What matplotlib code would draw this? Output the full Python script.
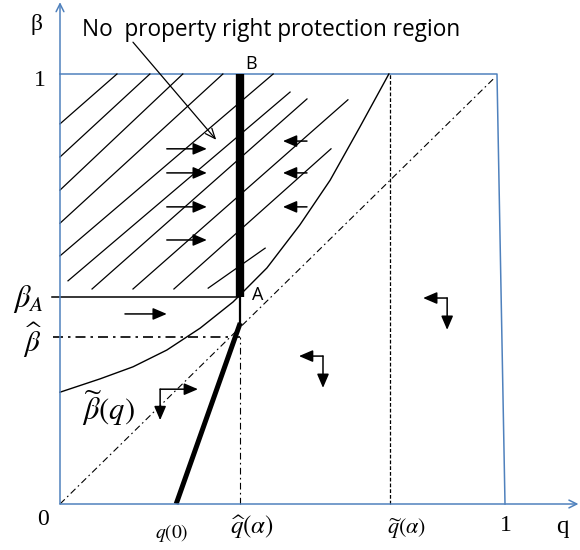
import matplotlib
matplotlib.use("Agg")
import matplotlib.pyplot as plt

plt.rcParams["mathtext.fontset"] = "stix"

# ------------------------------------------------------------ data
# q on the horizontal axis, beta on the vertical axis (both in [0, 1])
q_hat = 0.405       # q-hat(alpha): thick vertical A-B
q_tilde = 0.742     # q-tilde(alpha): dashed vertical
q_zero = 0.261      # q(0): foot of the thick slanted line
beta_A = 0.481
beta_hat = 0.388
beta_kink = 0.421   # where the thin piece below A meets the thick slant
box_top_q = 0.982   # the right edge of the box leans a little
diag_end = 0.975

# beta-tilde(q) curve
curve_q = [0.0, 0.090, 0.164, 0.240, 0.315, 0.389, 0.465, 0.539, 0.607,
           0.674, 0.739]
curve_b = [0.260, 0.291, 0.319, 0.358, 0.409, 0.470, 0.549, 0.649, 0.753,
           0.877, 1.0]

# hatching of the no-protection region: (q0, b0, q1, b1)
hatch_q0 = [0.0, 0.0, 0.0, 0.0, 0.0, 0.018, 0.072, 0.164, 0.256, 0.333]
hatch_b0 = [0.884, 0.807, 0.730, 0.653, 0.577, 0.519, 0.500, 0.500, 0.500, 0.502]
hatch_q1 = [0.128, 0.202, 0.276, 0.366, 0.479, 0.517, 0.555, 0.647, 0.609, 0.461]
hatch_b1 = [1.0, 1.0, 1.0, 1.0, 1.0, 0.958, 0.942, 0.940, 0.826, 0.595]

# flow arrows: tail q, tip q, beta
right_tail = [0.240, 0.240, 0.240, 0.240, 0.146]
right_tip = [0.330, 0.330, 0.330, 0.330, 0.240]
right_b = [0.826, 0.770, 0.691, 0.614, 0.442]
left_tail = [0.555, 0.555, 0.555]
left_tip = [0.501, 0.501, 0.501]
left_b = [0.844, 0.770, 0.691]

# corner arrows: corner (q, beta), horizontal tip q, vertical tip beta
corner_q = [0.225, 0.591, 0.870]
corner_b = [0.267, 0.344, 0.479]
corner_hq = [0.310, 0.537, 0.816]
corner_vb = [0.195, 0.270, 0.405]

BLUE = "#4f81bd"

fig = plt.figure(figsize=(5.8, 5.5), dpi=100)
ax = fig.add_axes([0, 0, 1, 1])
ax.set_xlim(-60 / 445, 520 / 445)
ax.set_ylim(-46 / 430, 504 / 430)
ax.axis("off")

# axes and box
ax.annotate("", xy=(0, 1.167), xytext=(0, 0),
            arrowprops=dict(arrowstyle="->", color=BLUE, lw=1.1,
                            mutation_scale=14, shrinkA=0, shrinkB=0))
ax.annotate("", xy=(1.165, 0), xytext=(0, 0),
            arrowprops=dict(arrowstyle="->", color=BLUE, lw=1.1,
                            mutation_scale=14, shrinkA=0, shrinkB=0))
ax.plot([0, box_top_q, 1.0], [1, 1, 0], color=BLUE, lw=1.1)

# hatching
for a, b, c, d in zip(hatch_q0, hatch_b0, hatch_q1, hatch_b1):
    ax.plot([a, c], [b, d], color="black", lw=0.9)

# 45-degree line
ax.plot([0, diag_end], [0, diag_end * 1.015], color="black", lw=0.8,
        dashes=(6, 3, 1.5, 3))

# beta-tilde curve
ax.plot(curve_q, curve_b, color="black", lw=1.0)

# q-tilde dashed vertical
ax.plot([q_tilde, q_tilde], [0, 1], color="black", lw=0.9, dashes=(3, 1.6))

# beta-hat / q-hat dash-dot guides
ax.plot([-0.016, q_hat], [beta_hat, beta_hat], color="black", lw=1.2,
        dashes=(6, 3, 1.5, 3))
ax.plot([q_hat, q_hat], [0, beta_hat], color="black", lw=0.8,
        dashes=(6, 3, 1.5, 3))

# beta_A horizontal
ax.plot([-0.018, q_hat], [beta_A, beta_A], color="black", lw=1.1)

# A-B thick segment, thin piece below A, thick slanted line
ax.plot([q_hat, q_hat], [beta_A, 1.0], color="black", lw=6,
        solid_capstyle="butt")
ax.plot([q_hat, q_hat], [beta_kink, beta_A], color="black", lw=1.6)
ax.plot([q_zero, q_hat], [0, beta_kink], color="black", lw=3.6,
        solid_capstyle="butt")

# flow arrows
arrow_kw = dict(arrowstyle="-|>,head_length=0.7,head_width=0.3",
                color="black", lw=1.1, mutation_scale=12,
                shrinkA=0, shrinkB=0)
for t, h, b in zip(right_tail, right_tip, right_b):
    ax.annotate("", xy=(h, b), xytext=(t, b), arrowprops=arrow_kw)
for t, h, b in zip(left_tail, left_tip, left_b):
    ax.annotate("", xy=(h, b), xytext=(t, b), arrowprops=arrow_kw)
for cq, cb, hq, vb in zip(corner_q, corner_b, corner_hq, corner_vb):
    ax.annotate("", xy=(hq, cb), xytext=(cq, cb), arrowprops=arrow_kw)
    ax.annotate("", xy=(cq, vb), xytext=(cq, cb), arrowprops=arrow_kw)

# region label with pointer
ax.text(0.049, 1.102, "No  property right protection region",
        family="Open Sans", fontsize=16.3, ha="left", va="center")
ax.annotate("", xy=(0.351, 0.847), xytext=(0.164, 1.074),
            arrowprops=dict(arrowstyle="->,head_length=0.6,head_width=0.25",
                            color="black", lw=0.9, mutation_scale=12,
                            shrinkA=0, shrinkB=0))

# labels
serif = "Liberation Serif"
ax.text(-0.052, 1.116, "β", family=serif, fontsize=17, ha="center", va="center")
ax.text(-0.045, 0.986, "1", family=serif, fontsize=17, ha="center", va="center")
ax.text(-0.038, -0.037, "0", family=serif, fontsize=17, ha="center", va="center")
ax.text(1.002, -0.049, "1", family=serif, fontsize=17, ha="center", va="center")
ax.text(1.130, -0.053, "q", family=serif, fontsize=18, ha="center", va="center")
ax.text(0.429, 1.023, "B", family="Open Sans", fontsize=13, ha="center", va="center")
ax.text(0.445, 0.486, "A", family="Open Sans", fontsize=13, ha="center", va="center")

ax.text(-0.072, 0.477, r"$\beta_A$", fontsize=22, ha="center", va="center")
ax.text(-0.061, 0.381, r"$\widehat{\beta}$", fontsize=21, ha="center", va="center")
ax.text(0.108, 0.223, r"$\widetilde{\beta}(q)$", fontsize=22, ha="center", va="center")
ax.text(0.252, -0.067, r"$q(0)$", fontsize=14, ha="center", va="center")
ax.text(0.431, -0.053, r"$\widehat{q}(\alpha)$", fontsize=18, ha="center", va="center")
ax.text(0.778, -0.056, r"$\widetilde{q}(\alpha)$", fontsize=16, ha="center", va="center")

fig.savefig("out.png", dpi=100)
